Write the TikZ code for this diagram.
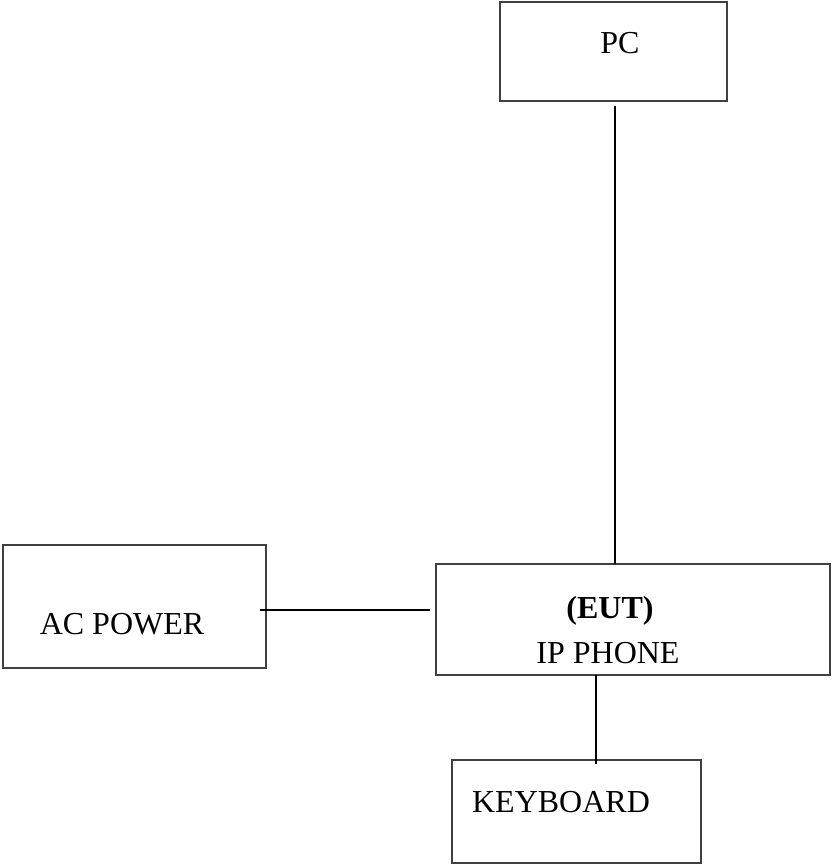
\documentclass[tikz,border=0pt]{standalone}
\usepackage{fontspec}
\setmainfont{Liberation Serif}
\usepackage{tikz}

\begin{document}
\begin{tikzpicture}
    [ x=1pt, y=-1pt
    , box/.style={draw=black!75, line width=2pt, inner sep=0pt, outer sep=0pt}
    , lbl/.style={anchor=base, inner sep=0pt, font=\fontsize{32}{38}\selectfont}
    , wire/.style={draw=black, line width=2pt}
    ]
\useasboundingbox (0,0) rectangle (832,865);
% boxes
\node[box, minimum width=227pt, minimum height=99pt]  (pc)  at (613.5,51.5) {};
\node[box, minimum width=263pt, minimum height=123pt] (ac)  at (134.5,606.5) {};
\node[box, minimum width=394pt, minimum height=111pt] (eut) at (633,619.5) {};
\node[box, minimum width=249pt, minimum height=103pt] (kb)  at (576.5,811.5) {};
% texts
\node[lbl] (pctext)  at (620,53)  {PC};
\node[lbl] (actext)  at (122,634) {AC POWER};
\node[lbl] (euttext) at (610,618) {\textbf{(EUT)}};
\node[lbl] (iptext)  at (608,663) {IP PHONE};
\node[lbl] (kbtext)  at (561,812) {KEYBOARD};
% connections
\draw[wire] ([xshift=1.5pt,yshift=-5pt]pc.south) -- ([xshift=1.5pt]pc.south |- eut.north);
\draw[wire] ([xshift=-6pt,yshift=-3.5pt]ac.east) -- ([xshift=-6pt,yshift=-3.5pt]ac.east -| eut.west);
\draw[wire] ([xshift=19.5pt]kb.north |- eut.south) -- ([xshift=19.5pt,yshift=-4pt]kb.north);
\end{tikzpicture}
\end{document}
